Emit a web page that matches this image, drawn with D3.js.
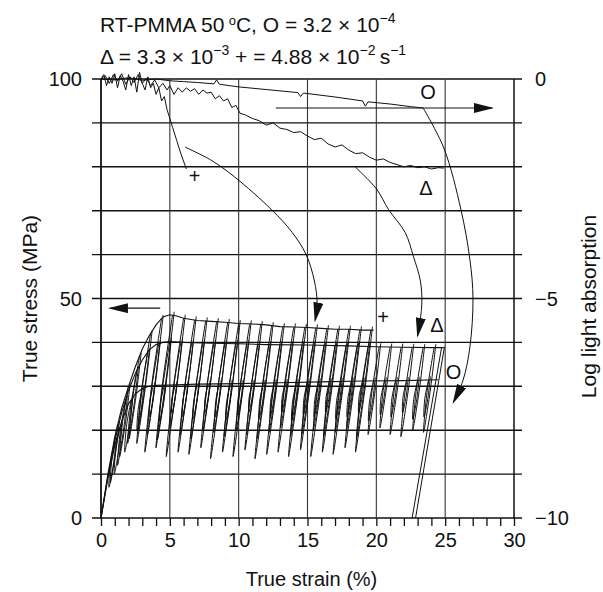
<!DOCTYPE html>
<html><head><meta charset="utf-8">
<script src="https://cdn.jsdelivr.net/npm/d3@7"></script>
<style>
body{margin:0;background:#fff}
svg text{font-family:"Liberation Sans",Arial,sans-serif;fill:#111}
</style></head><body>
<svg id="chart" width="603" height="592"></svg>
<script>
// ---- axis ticks ----
const strainTicks = [0, 5, 10, 15, 20, 25, 30];
const stressTicks = [0, 50, 100];
const lightTicks = [0, -5, -10];

// ---- stress–strain envelopes [strain %, true stress MPa] ----
const plusEnvelope = [[0,0],[0.5,10],[1,18.5],[1.5,25],[2,30],[2.5,34.5],[3,38.5],[3.5,41.5],[4,44],[4.5,45.8],[5,46.3],[5.5,46],[6,45.5],[7,45],[8,44.8],[9,44.6],[10,44.3],[11,44.2],[12,44],[13,43.6],[14,43.5],[15,43.4],[16,43.2],[17,43],[18,43],[19,42.8],[19.8,42.8]];
const deltaEnvelope = [[0,0],[0.5,9.5],[1,17.5],[1.5,24],[2,29],[2.5,33],[3,36],[3.5,38.3],[4,39.5],[4.5,40],[5,40.2],[6,40],[8,39.8],[10,39.7],[12,39.5],[15,39.4],[18,39.2],[20,39],[22,38.9],[24,38.8],[24.9,38.8]];
const oEnvelope = [[0,0],[0.5,9],[1,16.5],[1.5,22],[2,26],[2.5,28.3],[3,29.5],[3.5,30],[4,30.2],[5,30.3],[7,30.5],[10,30.6],[13,30.8],[16,31],[19,31.2],[22,31.3],[24.5,31.5]];

// ---- unloading loops: strain where unloading starts, and lowest stress reached ----
const plusLoopStrain = [1.2,2.0,2.8,3.6,4.4,5.2,6.0,6.8,7.6,8.4,9.2,10.0,10.8,11.6,12.4,13.2,14.0,14.8,15.6,16.4,17.2,18.0,18.8,19.6];
const plusLoopFloor  = [8,14,18,17,15,16,14,15,14.5,16,13.5,15,14,15.5,13.5,14.5,15,14,15.5,14,15,14.5,16,15];
const deltaLoopStrain = [1.0,1.8,2.6,3.4,4.2,5.0,5.8,6.6,7.4,8.2,9.0,9.8,10.6,11.4,12.2,13.0,13.8,14.6,15.4,16.2,17.0,17.8,18.6,19.4,20.2,21.0,21.8,22.6,23.4,24.2];
const deltaLoopFloor  = [7,12,17,20,19,18,20.5,19,18,20,19.5,18.5,20,19,18,19.5,20.5,18.5,19,20,18.5,19.5,20,18,19,20.5,19,18.5,20,19.5];
const oLoopStrain = [1.4,2.2,3.0,3.8,4.6,5.4,6.2,7.0,7.8,8.6,9.4,10.2,11.0,11.8,12.6,13.4,14.2,15.0,15.8,16.6,17.4,18.2,19.0,19.8,20.6,21.4,22.2,23.0,23.8];
const oLoopFloor  = [10,15,20,23,22,24,23,22.5,24,23,22,23.5,24,22.5,23,24,22,23.5,23,24,22.5,23,24,22,23.5,23,24,22.5,23];
// final unloading to zero load [strain, stress]
const finalUnloadA = [[24.75,39],[22.6,0]];
const finalUnloadB = [[24.95,39],[22.85,0]];

// ---- log light absorption [strain %, log absorption] ----
const lightPlus = [[0,0],[0.2,0.1],[0.4,-0.15],[0.6,0.05],[0.8,-0.1],[1.0,0.12],[1.2,-0.2],[1.4,0.08],[1.6,-0.05],[1.8,-0.25],[2.0,0.1],[2.2,-0.15],[2.4,0.05],[2.6,-0.3],[2.8,0.15],[3.0,-0.1],[3.2,-0.25],[3.4,0.05],[3.6,-0.2],[3.8,-0.1],[4.0,-0.35],[4.2,-0.2],[4.4,-0.5],[4.6,-0.4],[4.8,-0.7],[5.0,-0.9],[5.2,-1.1],[5.5,-1.4],[5.8,-1.7],[6.2,-2.05]];
const lightDelta = [[0,0],[0.3,0.08],[0.6,-0.1],[0.9,0.1],[1.2,-0.05],[1.5,0.12],[1.8,-0.12],[2.1,0.05],[2.4,-0.08],[2.7,0.1],[3.0,-0.1],[3.3,0.02],[3.6,-0.15],[3.9,-0.02],[4.2,-0.2],[4.5,-0.1],[4.8,-0.25],[5.0,-0.15],[5.3,-0.35],[5.6,-0.2],[5.9,-0.3],[6.2,-0.2],[6.5,-0.28],[6.8,-0.22],[7.1,-0.35],[7.4,-0.25],[7.7,-0.32],[8.0,-0.3],[8.3,-0.45],[8.6,-0.38],[8.9,-0.5],[9.2,-0.45],[9.5,-0.65],[9.8,-0.6],[10.1,-0.78],[10.5,-0.82],[11,-0.9],[11.5,-0.95],[12,-1.05],[12.5,-1.0],[13,-1.12],[13.5,-1.15],[14,-1.22],[14.5,-1.2],[15,-1.3],[15.5,-1.38],[16,-1.35],[16.5,-1.48],[17,-1.55],[17.5,-1.5],[18,-1.62],[18.5,-1.7],[19,-1.68],[19.5,-1.78],[20,-1.85],[20.5,-1.82],[21,-1.9],[21.5,-1.95],[22,-2.0],[22.5,-1.97],[23,-2.02],[23.5,-2.0],[24,-2.05],[24.5,-2.02],[24.9,-2.03]];
const lightO = [[0,0],[1,-0.02],[2,0.03],[3,-0.03],[4,0.0],[5,-0.04],[6,-0.06],[7,-0.08],[8.2,-0.11],[8.4,-0.02],[8.6,-0.12],[10,-0.18],[12,-0.24],[14.3,-0.31],[14.5,-0.4],[14.7,-0.32],[17,-0.41],[19,-0.5],[19.2,-0.62],[19.4,-0.52],[21,-0.57],[22.5,-0.63],[23.4,-0.66]];

// ---- annotation arrows linking light curves to stress curves [strain, log absorption] ----
const arrowPlus  = [[6.1,-1.55],[8.0,-1.85],[9.7,-2.23],[12.4,-2.98],[13.9,-3.5],[14.9,-4.0],[15.5,-4.6],[15.7,-5.1],[15.55,-5.5]];
const arrowDelta = [[18.45,-2.0],[20.0,-2.5],[20.9,-2.98],[22.1,-3.5],[22.7,-4.05],[23.2,-4.6],[23.3,-5.15],[23.0,-5.85]];
const arrowO     = [[23.4,-0.66],[24.9,-1.57],[26.15,-2.98],[26.8,-4.12],[27.02,-4.99],[26.8,-6.1],[26.3,-6.86],[25.6,-7.36]];
// axis-pointer arrows
const arrowToRight = [[12.7,-0.66],[28.4,-0.66]];   // log absorption axis
const arrowToLeft  = [[4.3,47.8],[0.65,47.8]];       // stress axis

// ---- curve labels ----
const lightLabels  = [["O",23.75,-0.3],["\u0394",23.6,-2.48],["+",6.8,-2.2]];
const stressLabels = [["+",20.5,45.8],["\u0394",24.4,44.0],["O",25.6,33.4]];

// ---- layout ----
const svg = d3.select("#chart");
const x  = d3.scaleLinear().domain([0,30]).range([101,514]);
const yS = d3.scaleLinear().domain([0,100]).range([518,79]);
const yL = d3.scaleLinear().domain([-10,0]).range([518,79]);

svg.append("rect").attr("width",603).attr("height",592).attr("fill","#fff");

// grid
const grid = svg.append("g");
grid.selectAll("line.h").data(d3.range(0,101,10)).join("line")
  .attr("x1",92).attr("x2",522).attr("y1",d=>yS(d)).attr("y2",d=>yS(d))
  .attr("stroke","#111").attr("stroke-width",1.4);
grid.selectAll("line.v").data(strainTicks.slice(1,-1)).join("line")
  .attr("x1",d=>x(d)).attr("x2",d=>x(d)).attr("y1",yS(100)).attr("y2",yS(0))
  .attr("stroke","#333").attr("stroke-width",1.1);

// x axis with 1 % minor ticks
const xAxis = d3.axisBottom(x).tickValues(d3.range(0,31,1)).tickSize(8).tickFormat(d=>strainTicks.includes(d)?d:"");
const gx = svg.append("g").attr("transform",`translate(0,${yS(0)})`).call(xAxis);
gx.select(".domain").remove();
gx.selectAll(".tick line").attr("stroke","#111").attr("stroke-width",1.3);
gx.selectAll(".tick text").attr("font-size",20).attr("dy","0.9em").attr("fill","#111").style("font-family","'Liberation Sans',Arial,sans-serif");

// frame verticals
svg.append("line").attr("x1",x(0)).attr("x2",x(0)).attr("y1",yS(100)).attr("y2",yS(0)+1).attr("stroke","#111").attr("stroke-width",1.8);
svg.append("line").attr("x1",x(30)).attr("x2",x(30)).attr("y1",yS(100)).attr("y2",yS(0)+1).attr("stroke","#111").attr("stroke-width",1.5);

// left / right axis labels
svg.append("g").selectAll("text").data(stressTicks).join("text")
  .attr("x",82).attr("y",d=>yS(d)).attr("dy","0.36em").attr("text-anchor","end").attr("font-size",20).text(d=>d);
svg.append("g").selectAll("text").data(lightTicks).join("text")
  .attr("x",535).attr("y",d=>yL(d)).attr("dy","0.36em").attr("font-size",20).text(d=>d<0?"\u2212"+Math.abs(d):d);

// arrowhead marker
const defs = svg.append("defs");
defs.append("marker").attr("id","head").attr("viewBox","0 -5 20 10").attr("refX",18).attr("refY",0)
  .attr("markerWidth",20).attr("markerHeight",10).attr("markerUnits","userSpaceOnUse").attr("orient","auto")
  .append("path").attr("d","M0,-5L20,0L0,5Z").attr("fill","#111");

const lineS = d3.line().x(d=>x(d[0])).y(d=>yS(d[1]));
const lineL = d3.line().x(d=>x(d[0])).y(d=>yL(d[1]));
const lineSmooth = d3.line().x(d=>x(d[0])).y(d=>yL(d[1])).curve(d3.curveCatmullRom.alpha(0.5));

// envelope interpolation
function envAt(env, s){
  const i = d3.bisector(d=>d[0]).right(env, s);
  if(i<=0) return env[0][1];
  if(i>=env.length) return env[env.length-1][1];
  const a=env[i-1], b=env[i];
  return a[1]+(b[1]-a[1])*(s-a[0])/(b[0]-a[0]);
}
const modulus = 25; // MPa per % strain on unloading
const loopLine = d3.line().x(d=>x(d[0])).y(d=>yS(d[1])).curve(d3.curveCatmullRom.alpha(0.5));
function drawLoops(env, strains, floors){
  const g = svg.append("g").attr("fill","none").attr("stroke","#111").attr("stroke-width",1);
  strains.forEach((s,i)=>{
    const top = envAt(env,s), lo = floors[i];
    const w = (top-lo)/modulus, mid=(top+lo)/2;
    const pts = [[s,top],[s-w*0.5-0.11,mid],[s-w,lo],[s-w*0.5+0.11,mid],[s+0.12,top+0.8]];
    g.append("path").attr("d",loopLine(pts));
  });
}

// stress curves
[plusEnvelope, deltaEnvelope, oEnvelope].forEach(env=>{
  svg.append("path").attr("d",lineS(env)).attr("fill","none").attr("stroke","#111").attr("stroke-width",1.1);
});
drawLoops(plusEnvelope, plusLoopStrain, plusLoopFloor);
drawLoops(deltaEnvelope, deltaLoopStrain, deltaLoopFloor);
drawLoops(oEnvelope, oLoopStrain, oLoopFloor);
[finalUnloadA, finalUnloadB].forEach(l=>svg.append("path").attr("d",lineS(l)).attr("stroke","#111").attr("stroke-width",1));

// light absorption curves
[lightPlus, lightDelta, lightO].forEach(l=>{
  svg.append("path").attr("d",lineL(l)).attr("fill","none").attr("stroke","#111").attr("stroke-width",1);
});

// annotation arrows
[arrowPlus, arrowDelta, arrowO].forEach(a=>{
  svg.append("path").attr("d",lineSmooth(a)).attr("fill","none").attr("stroke","#111").attr("stroke-width",1).attr("marker-end","url(#head)");
});
svg.append("path").attr("d",lineL(arrowToRight)).attr("stroke","#111").attr("stroke-width",1.1).attr("marker-end","url(#head)");
svg.append("path").attr("d",lineS(arrowToLeft)).attr("stroke","#111").attr("stroke-width",1.1).attr("marker-end","url(#head)");

// curve labels
svg.append("g").selectAll("text").data(lightLabels).join("text")
  .attr("x",d=>x(d[1])).attr("y",d=>yL(d[2])).attr("dy","0.36em").attr("text-anchor","middle").attr("font-size",20).text(d=>d[0]);
svg.append("g").selectAll("text").data(stressLabels).join("text")
  .attr("x",d=>x(d[1])).attr("y",d=>yS(d[2])).attr("dy","0.36em").attr("text-anchor","middle").attr("font-size",20).text(d=>d[0]);

// axis titles
svg.append("text").attr("x",(x(0)+x(30))/2+4).attr("y",586).attr("text-anchor","middle").attr("font-size",20).text("True strain (%)");
svg.append("text").attr("transform",`translate(37,${yS(50)}) rotate(-90)`).attr("text-anchor","middle").attr("font-size",21).text("True stress (MPa)");
svg.append("text").attr("transform",`translate(596,${yS(50)+8}) rotate(-90)`).attr("text-anchor","middle").attr("font-size",21).text("Log light absorption");

// header
const t1 = svg.append("text").attr("x",100).attr("y",32).attr("font-size",21);
t1.append("tspan").text("RT-PMMA 50\u2009");
t1.append("tspan").attr("dy",-7).attr("font-size",13).text("o");
t1.append("tspan").attr("dy",7).text("C, O = 3.2 \u00d7 10");
t1.append("tspan").attr("dy",-9).attr("font-size",14).text("\u22124");
const t2 = svg.append("text").attr("x",100).attr("y",64).attr("font-size",21);
t2.append("tspan").text("\u0394 = 3.3 \u00d7 10");
t2.append("tspan").attr("dy",-9).attr("font-size",14).text("\u22123");
t2.append("tspan").attr("dy",9).text("  + = 4.88 \u00d7 10");
t2.append("tspan").attr("dy",-9).attr("font-size",14).text("\u22122");
t2.append("tspan").attr("dy",9).text("\u2009s");
t2.append("tspan").attr("dy",-9).attr("font-size",14).text("\u22121");
</script></body></html>
